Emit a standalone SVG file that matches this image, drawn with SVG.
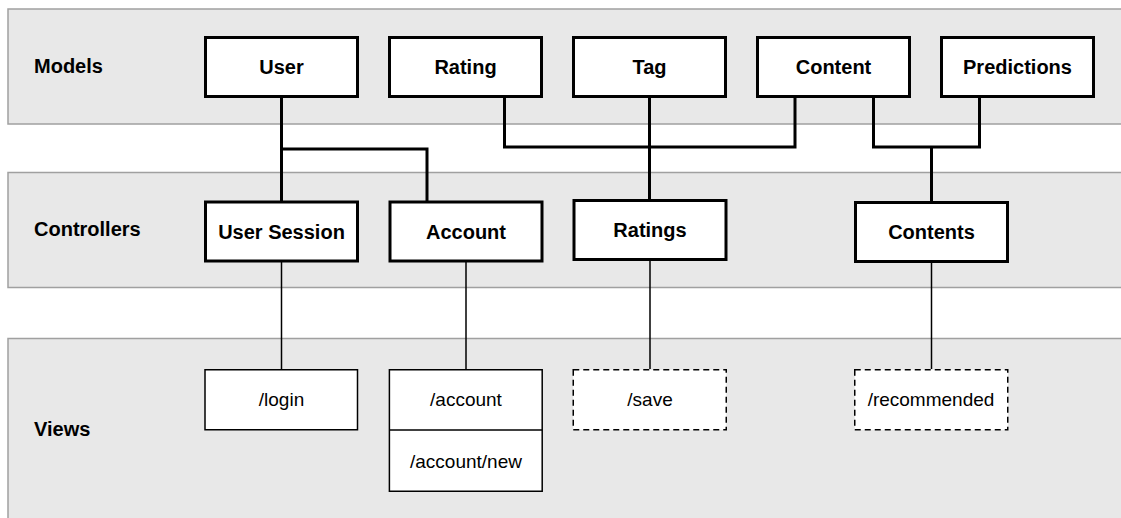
<svg xmlns="http://www.w3.org/2000/svg" width="1121" height="518" viewBox="0 0 1121 518">
<style>
.band{fill:#e8e8e8;stroke:#a0a0a0;stroke-width:1.5}
.lbl{font-family:"Liberation Sans",Arial,Helvetica,sans-serif;font-size:20px;font-weight:bold;fill:#000}
.bold{fill:#fff;stroke:#000;stroke-width:3}
.view{fill:#fff;stroke:#000;stroke-width:1.5}
.dash{fill:#fff;stroke:#000;stroke-width:1.5;stroke-dasharray:6 4}
.bt{font-family:"Liberation Sans",Arial,Helvetica,sans-serif;font-size:20px;font-weight:bold;text-anchor:middle;fill:#000}
.vt{font-family:"Liberation Sans",Arial,Helvetica,sans-serif;font-size:19px;text-anchor:middle;fill:#000}
.thick{fill:none;stroke:#000;stroke-width:3}
.thin{fill:none;stroke:#000;stroke-width:1.5}
</style>
<rect width="1121" height="518" fill="#fff"/>
<g id="bands">
<rect class="band" x="8" y="9" width="1130" height="115"/>
<rect class="band" x="8" y="172.5" width="1130" height="115"/>
<rect class="band" x="8" y="338.5" width="1130" height="200"/>
<text class="lbl" x="34" y="73">Models</text>
<text class="lbl" x="34" y="236">Controllers</text>
<text class="lbl" x="34" y="436">Views</text>
</g>
<g id="connectors">
<path class="thick" d="M281.5 98 V202"/>
<path class="thick" d="M281.5 149 H427 V202"/>
<path class="thick" d="M504.5 98 V147 H795 V98"/>
<path class="thick" d="M649.5 98 V200.5"/>
<path class="thick" d="M873.5 98 V147 H979.5 V98"/>
<path class="thick" d="M931.5 147 V202.5"/>
<path class="thin" d="M281.5 261 V369"/>
<path class="thin" d="M466 261 V369"/>
<path class="thin" d="M650 259.5 V369"/>
<path class="thin" d="M931.5 261.5 V369"/>
</g>
<g id="user"><rect class="bold" x="205.5" y="37.5" width="152" height="59"/><text class="bt" x="281.5" y="74">User</text></g>
<g id="rating"><rect class="bold" x="389.5" y="37.5" width="152" height="59"/><text class="bt" x="465.5" y="74">Rating</text></g>
<g id="tag"><rect class="bold" x="573.5" y="37.5" width="152" height="59"/><text class="bt" x="649.5" y="74">Tag</text></g>
<g id="content"><rect class="bold" x="757.5" y="37.5" width="152" height="59"/><text class="bt" x="833.5" y="74">Content</text></g>
<g id="predictions"><rect class="bold" x="941.5" y="37.5" width="152" height="59"/><text class="bt" x="1017.5" y="74">Predictions</text></g>
<g id="user-session"><rect class="bold" x="205.5" y="202" width="152" height="59"/><text class="bt" x="281.5" y="238.5">User Session</text></g>
<g id="account"><rect class="bold" x="390" y="202" width="152" height="59"/><text class="bt" x="466" y="238.5">Account</text></g>
<g id="ratings"><rect class="bold" x="574" y="200.5" width="152" height="59"/><text class="bt" x="650" y="237">Ratings</text></g>
<g id="contents"><rect class="bold" x="855.5" y="202.5" width="152" height="59"/><text class="bt" x="931.5" y="239">Contents</text></g>
<g id="login"><rect class="view" x="205" y="369.75" width="152.5" height="60"/><text class="vt" x="281.5" y="406">/login</text></g>
<g id="account-views"><rect class="view" x="389.4" y="369.75" width="152.8" height="121.5"/><line class="thin" x1="389.4" y1="430" x2="542.2" y2="430"/><text class="vt" x="466" y="406">/account</text><text class="vt" x="466" y="468">/account/new</text></g>
<g id="save"><rect class="dash" x="573.25" y="369.75" width="153" height="60"/><text class="vt" x="650" y="406">/save</text></g>
<g id="recommended"><rect class="dash" x="854.75" y="369.75" width="153" height="60"/><text class="vt" x="931" y="406">/recommended</text></g>
</svg>
